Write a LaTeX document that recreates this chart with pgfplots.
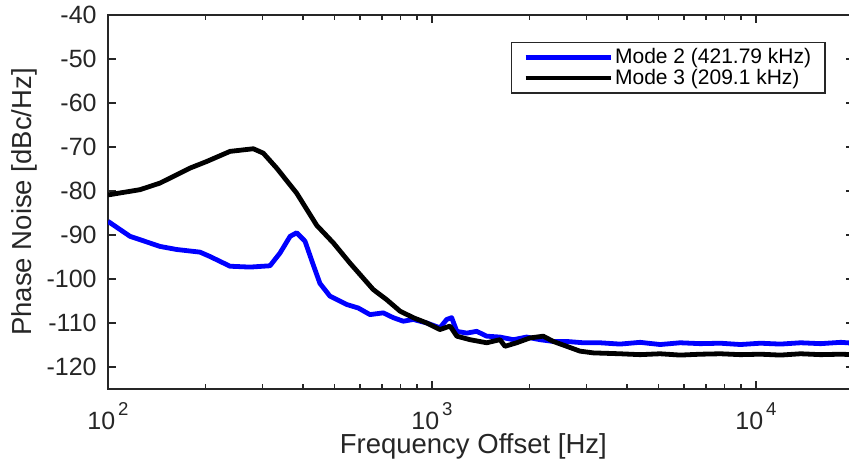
\documentclass[border=0pt]{standalone}
\usepackage{pgfplots}
\pgfplotsset{compat=1.18}
\usepackage{fontspec}
\setmainfont{Liberation Sans}
\newcommand{\tenp}[1]{10\hspace{1.5pt}\raisebox{7pt}{\fontsize{9.3}{10}\selectfont #1}}
\begin{document}
\begin{tikzpicture}
\begin{axis}[
  scale only axis, width=372.75pt, height=187pt,
  xmode=log, xmin=100, xmax=20000, ymin=-125, ymax=-40,
  xtick={100,1000,10000},
  xticklabels={\tenp{2},\tenp{3},\tenp{4}},
  minor xtick={200,300,400,500,600,700,800,900,2000,3000,4000,5000,6000,7000,8000,9000,20000},
  ytick={-120,-110,-100,-90,-80,-70,-60,-50,-40},
  yticklabels={-120,-110,-100,-90,-80,-70,-60,-50,-40},
  tick align=inside,
  major tick length=4pt, minor tick length=2.5pt,
  axis line style={black!85, line width=0.75pt},
  every tick/.style={black!85, line width=0.75pt},
  tick label style={font=\fontsize{12.5}{14}\selectfont, text=black!85},
  yticklabel style={inner sep=0pt, xshift=-5.5pt},
  xticklabel style={inner sep=0pt, yshift=-6.5pt},
  every axis x label/.style={at={(rel axis cs:0.49,-0.119)}, anchor=north, inner sep=0pt, font=\fontsize{13.75}{15}\selectfont, text=black!85},
  every axis y label/.style={at={(rel axis cs:-0.0939,0.5)}, rotate=90, anchor=south, inner sep=0pt, font=\fontsize{13.75}{15}\selectfont, text=black!85},
  xlabel={Frequency Offset [Hz]},
  ylabel={Phase Noise [dBc/Hz]},
  legend image code/.code={\draw[#1] (0pt,0pt) -- (42.5pt,0pt);},
  legend style={at={(rel axis cs:0.963,0.928)}, anchor=north east,
    draw=black!85, line width=0.75pt, fill=white,
    font=\fontsize{10.5}{11}\selectfont, inner xsep=6pt, inner ysep=2pt,
    row sep=-1pt,
    nodes={inner sep=1pt, text=black}},
  legend cell align=left,
]
\addplot[blue, line width=2.4pt, line join=round] coordinates {
(100,-86.9) (116.9,-90.3) (144.7,-92.6) (162.9,-93.3) (192.3,-93.9) (206.5,-94.9)
(238,-97.1) (274.2,-97.3) (316.2,-97.0) (339.6,-94.1) (364.9,-90.3) (382.3,-89.5)
(405.5,-91.4) (430.1,-96.8) (450.9,-101.0) (484.2,-103.9) (545.5,-105.8) (592.2,-106.6)
(643.6,-108.1) (707.4,-107.7) (759.7,-108.8) (815.5,-109.6) (875.9,-109.2) (963,-110.0)
(1058,-111.1) (1110,-109.2) (1150,-108.8) (1193,-111.9) (1280,-112.3) (1374,-111.9)
(1475,-113.0) (1621,-113.2) (1782,-113.8) (1960,-113.2) (2154,-113.8) (2368,-114.2)
(2604,-114.2) (2931,-114.5) (3300,-114.5) (3805,-114.8) (4389,-114.4) (5060,-114.9)
(5836,-114.5) (6730,-114.7) (7762,-114.6) (8951,-114.9) (10323,-114.6) (11905,-114.8)
(13730,-114.5) (15834,-114.7) (18260,-114.4) (20000,-114.6)
};
\addlegendentry{Mode 2 (421.79 kHz)}
\addplot[black, line width=2.4pt, line join=round] coordinates {
(100,-80.9) (125.6,-79.7) (144.7,-78.2) (179.1,-74.8) (201.6,-73.3) (238,-71.0)
(280.9,-70.4) (301.5,-71.4) (331.6,-74.8) (382.3,-80.5) (440.7,-87.8) (496,-91.8)
(558.4,-96.4) (658.6,-102.4) (724.6,-104.7) (796.5,-107.3) (875.9,-108.8) (963,-110.0)
(1058,-111.5) (1137,-110.7) (1193,-113.0) (1310,-113.8) (1475,-114.5) (1621,-113.8)
(1680,-115.3) (1826,-114.5) (2007,-113.4) (2205,-113.0) (2368,-114.2) (2604,-115.3)
(2862,-116.4) (3148,-116.8) (3805,-117.0) (4389,-117.2) (5060,-117.0) (5836,-117.3)
(6730,-117.1) (7762,-117.0) (8951,-117.2) (10323,-117.1) (11905,-117.3) (13730,-117.0)
(15834,-117.2) (18260,-117.1) (20000,-117.2)
};
\addlegendentry{Mode 3 (209.1 kHz)}
\end{axis}
\pgfresetboundingbox
\path[use as bounding box] ([xshift=-54pt,yshift=-37.5pt]current axis.south west) rectangle ([xshift=-2.25pt,yshift=7.5pt]current axis.north east);
\end{tikzpicture}
\end{document}
